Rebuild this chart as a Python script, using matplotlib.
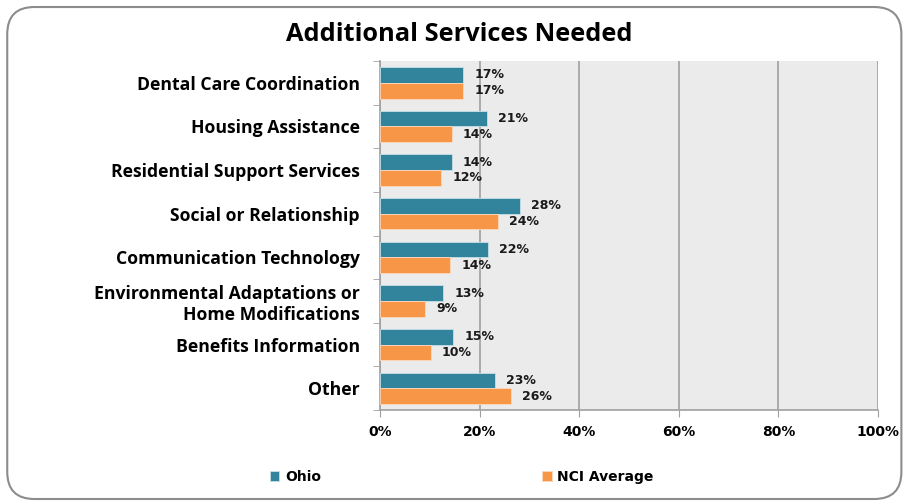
import matplotlib.pyplot as plt
import numpy as np
from matplotlib.patches import FancyBboxPatch

# === Daten ===
categories = ["Dental Care Coordination", "Housing Assistance", "Residential Support Services",
              "Social or Relationship", "Communication Technology",
              "Environmental Adaptations or\nHome Modifications", "Benefits Information", "Other"]
ohio = [16.7, 21.4, 14.4, 28.1, 21.7, 12.7, 14.7, 23.0]
nci = [16.7, 14.4, 12.3, 23.7, 14.1, 9.0, 10.2, 26.3]
x_ticks = [0, 20, 40, 60, 80, 100]

OHIO_COLOR = "#31849B"
NCI_COLOR = "#F79646"

fig = plt.figure(figsize=(9.05, 5.01), dpi=100)

# Rahmen mit runden Ecken
frame = FancyBboxPatch((0.008, 0.004), 0.988, 0.982, boxstyle="round,pad=0,rounding_size=0.03",
                       transform=fig.transFigure, facecolor="white", edgecolor="#8C8C8C",
                       linewidth=1.5, mutation_aspect=905 / 501, zorder=-10)
fig.patches.append(frame)

ax = fig.add_axes([0.4199, 0.1816, 0.5503, 0.6966])
ax.set_facecolor("#EBEBEB")

y = np.arange(len(categories))
h = 0.36
ax.barh(y - h / 2, ohio, height=h, color=OHIO_COLOR, edgecolor="#C6E0E8", linewidth=0.6,
        label="Ohio", zorder=3)
ax.barh(y + h / 2, nci, height=h, color=NCI_COLOR, edgecolor="#FCD9BE", linewidth=0.6,
        label="NCI Average", zorder=3)

for yi, v in zip(y, ohio):
    ax.annotate(f"{v:.0f}%", (v, yi - h / 2), xytext=(8, 0), textcoords="offset points",
                va="center", ha="left", fontsize=9, fontweight="bold", color="#1A1A1A")
for yi, v in zip(y, nci):
    ax.annotate(f"{v:.0f}%", (v, yi + h / 2), xytext=(8, 0), textcoords="offset points",
                va="center", ha="left", fontsize=9, fontweight="bold", color="#1A1A1A")

ax.set_xlim(0, 100)
ax.set_ylim(len(categories) - 0.5, -0.5)
ax.set_xticks(x_ticks)
ax.set_xticklabels([f"{t}%" for t in x_ticks], fontsize=10, fontweight="bold")
ax.grid(axis="x", color="#A0A0A0", linewidth=1.2, zorder=0)

# Kategorien-Beschriftung und Trennstriche
ax.set_yticks(y)
ax.set_yticklabels(categories, fontsize=12.7, fontweight="bold", family="Open Sans",
                   linespacing=1.25)
ax.tick_params(axis="y", length=0, pad=14.5)
ax.set_yticks(np.arange(len(categories) + 1) - 0.5, minor=True)
ax.tick_params(axis="y", which="minor", length=5, color="#A0A0A0")
ax.tick_params(axis="x", length=5, color="#A0A0A0", pad=6)

for s in ["top", "right"]:
    ax.spines[s].set_visible(False)
for s in ["left", "bottom"]:
    ax.spines[s].set_color("#A0A0A0")
    ax.spines[s].set_linewidth(1.2)

fig.text(0.508, 0.932, "Additional Services Needed", ha="center", va="center",
         fontsize=18.3, fontweight="bold", family="Open Sans")

fig.legend(loc="center", bbox_to_anchor=(0.51, 0.048), ncol=2, frameon=False,
           handlelength=0.7, handleheight=0.7, handletextpad=0.4, columnspacing=15.9,
           prop={"size": 10, "weight": "bold"})

plt.savefig("out.png", dpi=100)
plt.close()
